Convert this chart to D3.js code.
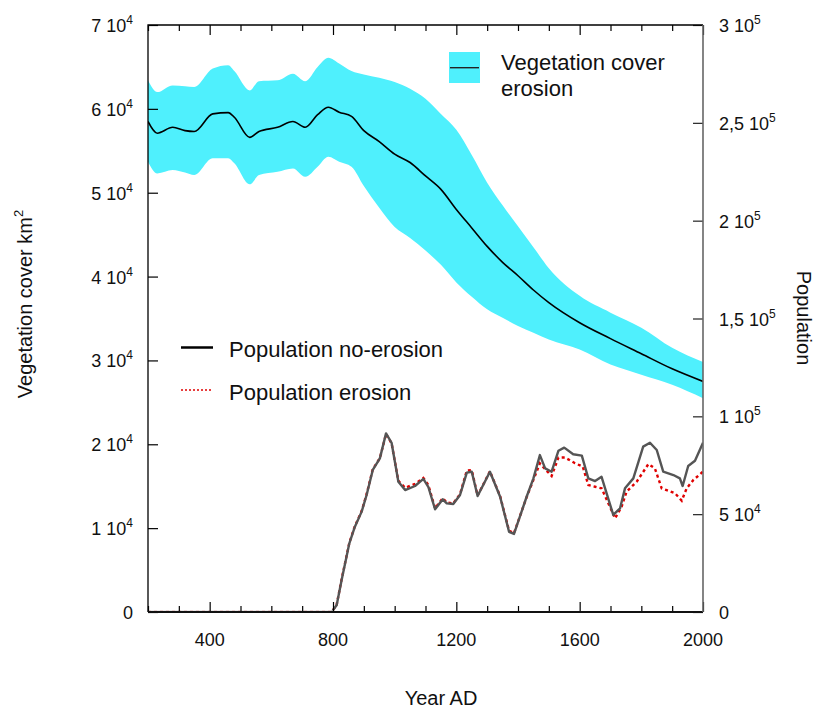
<!DOCTYPE html>
<html>
<head>
<meta charset="utf-8">
<script src="https://cdn.jsdelivr.net/npm/d3@7"></script>
<style>
  html, body { margin: 0; padding: 0; background: #fff; }
  svg { display: block; font-family: "Liberation Sans", Arial, Helvetica, sans-serif; }
</style>
</head>
<body>
<svg id="chart" width="817" height="711"></svg>
<script>
// Vegetation cover (km²) under erosion: mean and spread
const vegYears = [200, 230, 280, 320, 350, 410, 460, 480, 530, 560, 620, 670, 710, 750, 785, 820, 860, 900, 950,
  1000, 1050, 1100, 1150, 1200, 1250, 1300, 1350, 1400, 1450, 1500, 1600, 1700, 1800, 1900, 2000];
const vegMean = [58500, 57100, 57800, 57400, 57300, 59400, 59550, 59000, 56600, 57300, 57800, 58500, 57800, 59300, 60200, 59600, 59100, 57400, 56100,
  54600, 53600, 52000, 50400, 48000, 45800, 43600, 41700, 40100, 38400, 36900, 34500, 32600, 30800, 29000, 27500];
const vegUpper = [63400, 62000, 62800, 62700, 62600, 64800, 65200, 64500, 62200, 63300, 63400, 64200, 63300, 65000, 66100, 65400, 64500, 64100, 63700,
  63200, 62400, 61200, 59400, 57500, 54500, 51200, 48500, 46000, 43500, 41000, 37700, 35700, 33900, 31500, 29800];
const vegLower = [53700, 52300, 52700, 52400, 52100, 54100, 54100, 53500, 51000, 52100, 52500, 52900, 51900, 53100, 54300, 53700, 53100, 50800, 48200,
  45900, 44600, 43100, 41400, 39300, 37600, 36100, 35100, 34100, 33300, 32500, 31300, 29500, 28300, 27100, 25500];

// Population without erosion
const popYears = [200, 796, 812, 828, 853, 871, 893, 909, 929, 952, 972, 990, 1012, 1034, 1066, 1093, 1109, 1131, 1156, 1169,
  1190, 1212, 1234, 1250, 1269, 1309, 1342, 1371, 1387, 1428, 1450, 1471, 1488, 1509, 1531, 1550, 1579, 1607, 1628, 1650,
  1671, 1709, 1731, 1747, 1774, 1806, 1828, 1850, 1871, 1904, 1925, 1934, 1952, 1974, 2000];
const popNoErosion = [0, 0, 3600, 16400, 35100, 43600, 51300, 59800, 72600, 78500, 91300, 86500, 66600, 62300, 64400, 68000, 64000, 52500, 57600, 55500,
  55200, 59800, 71200, 71700, 59300, 71700, 58900, 41000, 39900, 58900, 68300, 80200, 73400, 71700, 82400, 84000, 80600, 79900, 68300, 66900,
  69100, 49600, 53000, 63200, 68300, 84500, 86500, 82800, 71700, 70000, 68300, 64400, 74600, 77300, 86500];

// Population with erosion
const erosionYears = [200, 796, 812, 828, 853, 871, 893, 909, 929, 952, 972, 990, 1012, 1034, 1066, 1093, 1109, 1131, 1156, 1169,
  1190, 1212, 1234, 1250, 1269, 1309, 1342, 1371, 1387, 1428, 1450, 1471, 1488, 1509, 1531, 1552, 1585, 1610, 1628, 1650,
  1671, 1715, 1736, 1752, 1785, 1823, 1844, 1866, 1882, 1909, 1931, 1947, 1969, 1996, 2000];
const popErosion = [0, 0, 3800, 16800, 35400, 43900, 51600, 60200, 73000, 78600, 91000, 86200, 67000, 63500, 65500, 68500, 65000, 53000, 58200, 56000,
  55500, 60200, 72300, 72500, 59500, 71900, 59200, 41500, 40300, 58700, 67500, 76000, 73000, 69500, 78900, 79000, 76000, 74300, 64900, 64000,
  63200, 47900, 53800, 61500, 66600, 75600, 73400, 63200, 62300, 60700, 56900, 63200, 67500, 71200, 72000];

// Axis ticks
const xMajorTicks = [400, 800, 1200, 1600, 2000];
const xMinorTicks = d3.range(200, 2001, 100).filter(v => !xMajorTicks.includes(v));
const vegTicks = [0, 10000, 20000, 30000, 40000, 50000, 60000, 70000];
const vegTickLabels = [["0", ""], ["1 10", "4"], ["2 10", "4"], ["3 10", "4"], ["4 10", "4"], ["5 10", "4"], ["6 10", "4"], ["7 10", "4"]];
const popTicks = [0, 50000, 100000, 150000, 200000, 250000, 300000];
const popTickLabels = [["0", ""], ["5 10", "4"], ["1 10", "5"], ["1,5 10", "5"], ["2 10", "5"], ["2,5 10", "5"], ["3 10", "5"]];

const svg = d3.select("#chart");
const L = 148, R = 703, T = 25, B = 612;

const x = d3.scaleLinear().domain([200, 2000]).range([L, R]);
const yVeg = d3.scaleLinear().domain([0, 70000]).range([B, T]);
const yPop = d3.scaleLinear().domain([0, 300000]).range([B, T]);

const cyan = "#4ff0fd";

// Plot clip (stops just above the bottom axis so zero-valued segments sit under it)
svg.append("defs").append("clipPath").attr("id", "plot")
  .append("rect").attr("x", L).attr("y", T).attr("width", R - L).attr("height", B - T - 1.6);

const plot = svg.append("g").attr("clip-path", "url(#plot)");

// Vegetation band
const vegRows = vegYears.map((yr, i) => ({ yr, m: vegMean[i], hi: vegUpper[i], lo: vegLower[i] }));
plot.append("path").datum(vegRows)
  .attr("fill", cyan)
  .attr("d", d3.area().curve(d3.curveMonotoneX).x(d => x(d.yr)).y0(d => yVeg(d.lo)).y1(d => yVeg(d.hi)));
plot.append("path").datum(vegRows)
  .attr("fill", "none").attr("stroke", "#000").attr("stroke-width", 1.6)
  .attr("d", d3.line().curve(d3.curveMonotoneX).x(d => x(d.yr)).y(d => yVeg(d.m)));

// Population lines
const popLine = d3.line().x(d => x(d[0])).y(d => yPop(d[1]));
plot.append("path").datum(erosionYears.map((yr, i) => [yr, popErosion[i]]))
  .attr("fill", "none").attr("stroke", "#e00000").attr("stroke-width", 2.4)
  .attr("stroke-dasharray", "3,3")
  .attr("d", popLine);
plot.append("path").datum(popYears.map((yr, i) => [yr, popNoErosion[i]]))
  .attr("fill", "none").attr("stroke", "#555").attr("stroke-width", 2.4)
  .attr("stroke-linejoin", "round")
  .attr("d", popLine);

// Axes (ticks point inward)
function styleAxis(g, color) {
  g.select(".domain").remove();
  g.selectAll(".tick line").attr("stroke", color).attr("stroke-width", 1.2);
  g.selectAll(".tick text").remove();
}
svg.append("g").attr("transform", `translate(0,${B})`)
  .call(d3.axisBottom(x).tickValues(xMajorTicks).tickSize(-10)).call(g => styleAxis(g, "#000"));
svg.append("g").attr("transform", `translate(0,${B})`)
  .call(d3.axisBottom(x).tickValues(xMinorTicks).tickSize(-6)).call(g => styleAxis(g, "#000"));
svg.append("g").attr("transform", `translate(0,${T})`)
  .call(d3.axisTop(x).tickValues(xMajorTicks).tickSize(-10)).call(g => styleAxis(g, "#000"));
svg.append("g").attr("transform", `translate(0,${T})`)
  .call(d3.axisTop(x).tickValues(xMinorTicks).tickSize(-6)).call(g => styleAxis(g, "#000"));
svg.append("g").attr("transform", `translate(${L},0)`)
  .call(d3.axisLeft(yVeg).tickValues(vegTicks).tickSize(-10)).call(g => styleAxis(g, "#000"));
svg.append("g").attr("transform", `translate(${R},0)`)
  .call(d3.axisRight(yPop).tickValues(popTicks).tickSize(-10)).call(g => styleAxis(g, "#222"));

// Frame
svg.append("path").attr("fill", "none").attr("stroke", "#000").attr("stroke-width", 1.3)
  .attr("d", `M${R},${T}H${L}V${B}`);
svg.append("line").attr("x1", L).attr("x2", R).attr("y1", B).attr("y2", B)
  .attr("stroke", "#111").attr("stroke-width", 1.8);
svg.append("line").attr("x1", R).attr("x2", R).attr("y1", T).attr("y2", B)
  .attr("stroke", "#666").attr("stroke-width", 1.6);

// Tick labels
const tickFont = 18;
function powerLabel(g, base, exp) {
  g.append("tspan").text(base);
  if (exp) g.append("tspan").attr("font-size", 12).attr("dy", -8).text(exp);
}
vegTicks.forEach((v, i) => {
  const t = svg.append("text").attr("x", 133).attr("y", yVeg(v) + 7)
    .attr("text-anchor", "end").attr("font-size", tickFont).attr("fill", "#111");
  powerLabel(t, vegTickLabels[i][0], vegTickLabels[i][1]);
});
popTicks.forEach((v, i) => {
  const t = svg.append("text").attr("x", 719).attr("y", yPop(v) + 7)
    .attr("text-anchor", "start").attr("font-size", tickFont).attr("fill", "#111");
  powerLabel(t, popTickLabels[i][0], popTickLabels[i][1]);
});
xMajorTicks.forEach(v => {
  svg.append("text").attr("x", x(v)).attr("y", 646)
    .attr("text-anchor", "middle").attr("font-size", tickFont).attr("fill", "#111").text(v);
});

// Axis titles
svg.append("text").attr("x", 441).attr("y", 705).attr("text-anchor", "middle")
  .attr("font-size", 20).attr("fill", "#111").text("Year AD");
const vt = svg.append("text").attr("transform", "translate(32,304) rotate(-90)")
  .attr("text-anchor", "middle").attr("font-size", 20).attr("fill", "#111");
vt.append("tspan").text("Vegetation cover km");
vt.append("tspan").attr("font-size", 13).attr("dy", -9).text("2");
svg.append("text").attr("transform", "translate(797,318) rotate(90)")
  .attr("text-anchor", "middle").attr("font-size", 20).attr("fill", "#111").text("Population");

// Legend: vegetation
svg.append("rect").attr("x", 449).attr("y", 52).attr("width", 31).attr("height", 31).attr("fill", cyan);
svg.append("line").attr("x1", 450).attr("x2", 479).attr("y1", 67.7).attr("y2", 67.7)
  .attr("stroke", "#222").attr("stroke-width", 1.4);
svg.append("text").attr("x", 501).attr("y", 70).attr("font-size", 22).attr("fill", "#111").text("Vegetation cover");
svg.append("text").attr("x", 501).attr("y", 96).attr("font-size", 22).attr("fill", "#111").text("erosion");

// Legend: population
svg.append("line").attr("x1", 181).attr("x2", 213).attr("y1", 347.5).attr("y2", 347.5)
  .attr("stroke", "#000").attr("stroke-width", 2.5);
svg.append("text").attr("x", 229).attr("y", 357).attr("font-size", 22).attr("fill", "#111").text("Population no-erosion");
svg.append("line").attr("x1", 181).attr("x2", 213).attr("y1", 390).attr("y2", 390)
  .attr("stroke", "#e00000").attr("stroke-width", 1.5).attr("stroke-dasharray", "2,2");
svg.append("text").attr("x", 229).attr("y", 400).attr("font-size", 22).attr("fill", "#111").text("Population erosion");
</script>
</body>
</html>
